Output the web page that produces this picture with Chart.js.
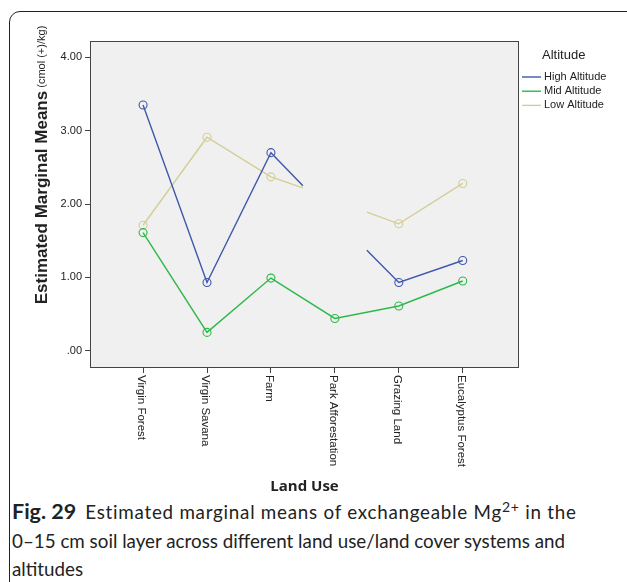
<!DOCTYPE html>
<html>
<head>
<meta charset="utf-8">
<script src="https://cdn.jsdelivr.net/npm/chart.js@4.4.1/dist/chart.umd.min.js"></script>
<style>
  html, body { margin: 0; padding: 0; background: #fff; }
  body { width: 627px; height: 582px; overflow: hidden; position: relative; }
  .card { position: absolute; left: 9px; top: 11px; width: 700px; height: 700px;
          border: 1px solid #222; border-radius: 11px; }
  #chart { position: absolute; left: 0; top: 0; }
  .caption { position: absolute; left: 12px; top: 497px; width: 620px;
             font-family: Lato, "Open Sans", sans-serif; font-size: 18.8px;
             line-height: 28.5px; color: #222; white-space: nowrap; }
  .caption b { font-weight: 700; font-size: 21.5px; margin-right: 9px; }
  .caption .l1 { letter-spacing: 0.75px; }
  .caption sup { font-size: 14px; line-height: 0; vertical-align: 7px; }
</style>
</head>
<body>
<div class="card"></div>
<canvas id="chart" width="627" height="495"></canvas>
<div class="caption">
  <b>Fig. 29</b><span class="l1">Estimated marginal means of exchangeable Mg<sup>2+</sup> in the</span><br>
  0–15 cm soil layer across different land use/land cover systems and<br>
  altitudes
</div>
<script>
const landUse = ['Virgin Forest', 'Virgin Savana', 'Farm', 'Park Afforestation', 'Grazing Land', 'Eucalyptus Forest'];
const altitudes = ['High Altitude', 'Mid Altitude', 'Low Altitude'];
const highAlt = [3.35, 0.93, 2.70, null, 0.93, 1.23];
const midAlt = [1.61, 0.25, 0.99, 0.44, 0.61, 0.95];
const lowAlt = [1.71, 2.91, 2.37, null, 1.73, 2.28];
// SPSS stops the line half-way on each side of a missing cell; these are where those stubs end
const highStubs = [2.25, 1.37];
const lowStubs = [2.22, 1.89];
const yTicks = [0, 1, 2, 3, 4];
const seriesColors = ['#3E58AC', '#2EB848', '#D3CE97'];

const font = 'Arial, "Liberation Sans", sans-serif';

function buildPoints(values, stubs) {
    const pts = [];
    values.forEach((v, i) => {
        if (v === null) {
            pts.push({ x: i + 0.5, y: stubs[0], stub: true });
            pts.push({ x: i + 1, y: null });
            pts.push({ x: i + 1.5, y: stubs[1], stub: true });
        } else {
            pts.push({ x: i + 1, y: v });
        }
    });
    return pts;
}

const seriesData = [buildPoints(highAlt, highStubs), buildPoints(midAlt), buildPoints(lowAlt, lowStubs)];

const datasets = altitudes.map((name, i) => ({
    label: name,
    data: seriesData[i],
    borderColor: seriesColors[i],
    backgroundColor: 'transparent',
    borderWidth: 1.4,
    pointRadius: c => (c.raw && c.raw.stub) ? 0 : 4,
    pointBorderWidth: 1.1,
    pointBorderColor: seriesColors[i],
    pointBackgroundColor: 'transparent',
    tension: 0,
    spanGaps: false
}));

// plot background + frame
const framePlugin = {
    id: 'frame',
    beforeDatasetsDraw(chart) {
        const { ctx, chartArea: a } = chart;
        ctx.save();
        ctx.fillStyle = '#F0F0F0';
        ctx.fillRect(a.left, a.top, a.right - a.left, a.bottom - a.top);
        ctx.restore();
    },
    afterDraw(chart) {
        const { ctx, chartArea: a } = chart;
        ctx.save();
        ctx.strokeStyle = '#444';
        ctx.lineWidth = 1;
        ctx.strokeRect(a.left + 0.5, a.top + 0.5, a.right - a.left - 1, a.bottom - a.top);
        ctx.restore();
    }
};

// texts Chart.js can't lay out the SPSS way: downward x labels, mixed-weight y title, legend
const textPlugin = {
    id: 'texts',
    afterDraw(chart) {
        const { ctx, chartArea: a } = chart;
        const xs = chart.scales.x;
        ctx.save();
        ctx.fillStyle = '#222';

        // category labels, reading top to bottom
        ctx.font = '11.5px ' + font;
        ctx.textAlign = 'left';
        ctx.textBaseline = 'middle';
        landUse.forEach((name, i) => {
            const px = xs.getPixelForValue(i + 1);
            ctx.save();
            ctx.translate(px - 1.5, a.bottom + 8);
            ctx.rotate(Math.PI / 2);
            ctx.fillText(name, 0, 0);
            ctx.restore();
        });

        // x title
        ctx.font = 'bold 15px "Open Sans", sans-serif';
        ctx.textAlign = 'center';
        ctx.fillText('Land Use', (a.left + a.right) / 2, 487);

        // y title: bold part + normal unit
        const boldPart = 'Estimated Marginal Means';
        const unitPart = ' (cmol (+)/kg)';
        const boldFont = 'bold 17px ' + font;
        const unitFont = '11px ' + font;
        ctx.font = boldFont;
        const wb = ctx.measureText(boldPart).width;
        ctx.font = unitFont;
        const wu = ctx.measureText(unitPart).width;
        ctx.save();
        ctx.translate(42, 165);
        ctx.rotate(-Math.PI / 2);
        ctx.textAlign = 'left';
        ctx.textBaseline = 'middle';
        const start = -(wb + wu) / 2;
        ctx.font = boldFont;
        ctx.fillText(boldPart, start, 0);
        ctx.font = unitFont;
        ctx.fillText(unitPart, start + wb, 0);
        ctx.restore();

        // legend
        ctx.textAlign = 'left';
        ctx.textBaseline = 'middle';
        ctx.font = '13px ' + font;
        ctx.fillText('Altitude', a.right + 23, 55);
        ctx.font = '11px ' + font;
        chart.data.datasets.forEach((ds, i) => {
            const y = 77 + i * 14.2;
            ctx.strokeStyle = ds.borderColor;
            ctx.lineWidth = 1.4;
            ctx.beginPath();
            ctx.moveTo(a.right + 3, y);
            ctx.lineTo(a.right + 22, y);
            ctx.stroke();
            ctx.fillText(ds.label, a.right + 25, y);
        });
        ctx.restore();
    }
};

new Chart(document.getElementById('chart').getContext('2d'), {
    type: 'line',
    data: { datasets },
    options: {
        responsive: false,
        animation: false,
        layout: { padding: { left: 0, top: 41, right: 108, bottom: 0 } },
        plugins: { legend: { display: false }, tooltip: { enabled: false } },
        scales: {
            x: {
                type: 'linear',
                min: 0.17,
                max: 6.88,
                afterBuildTicks: s => { s.ticks = landUse.map((_, i) => ({ value: i + 1 })); },
                afterFit: s => { s.height = 128; },
                ticks: { callback: () => '', autoSkip: false },
                grid: { drawOnChartArea: false, drawTicks: true, tickLength: 6, tickColor: '#444' },
                border: { display: false }
            },
            y: {
                min: -0.222,
                max: 4.222,
                afterBuildTicks: s => { s.ticks = yTicks.map(v => ({ value: v })); },
                afterFit: s => { s.width = 90; },
                ticks: {
                    padding: 3,
                    color: '#222',
                    font: { family: font, size: 11 },
                    callback: v => v.toFixed(2).replace(/^0/, '')
                },
                grid: { drawOnChartArea: false, drawTicks: true, tickLength: 5, tickColor: '#444' },
                border: { display: false }
            }
        }
    },
    plugins: [framePlugin, textPlugin]
});
</script>
</body>
</html>
